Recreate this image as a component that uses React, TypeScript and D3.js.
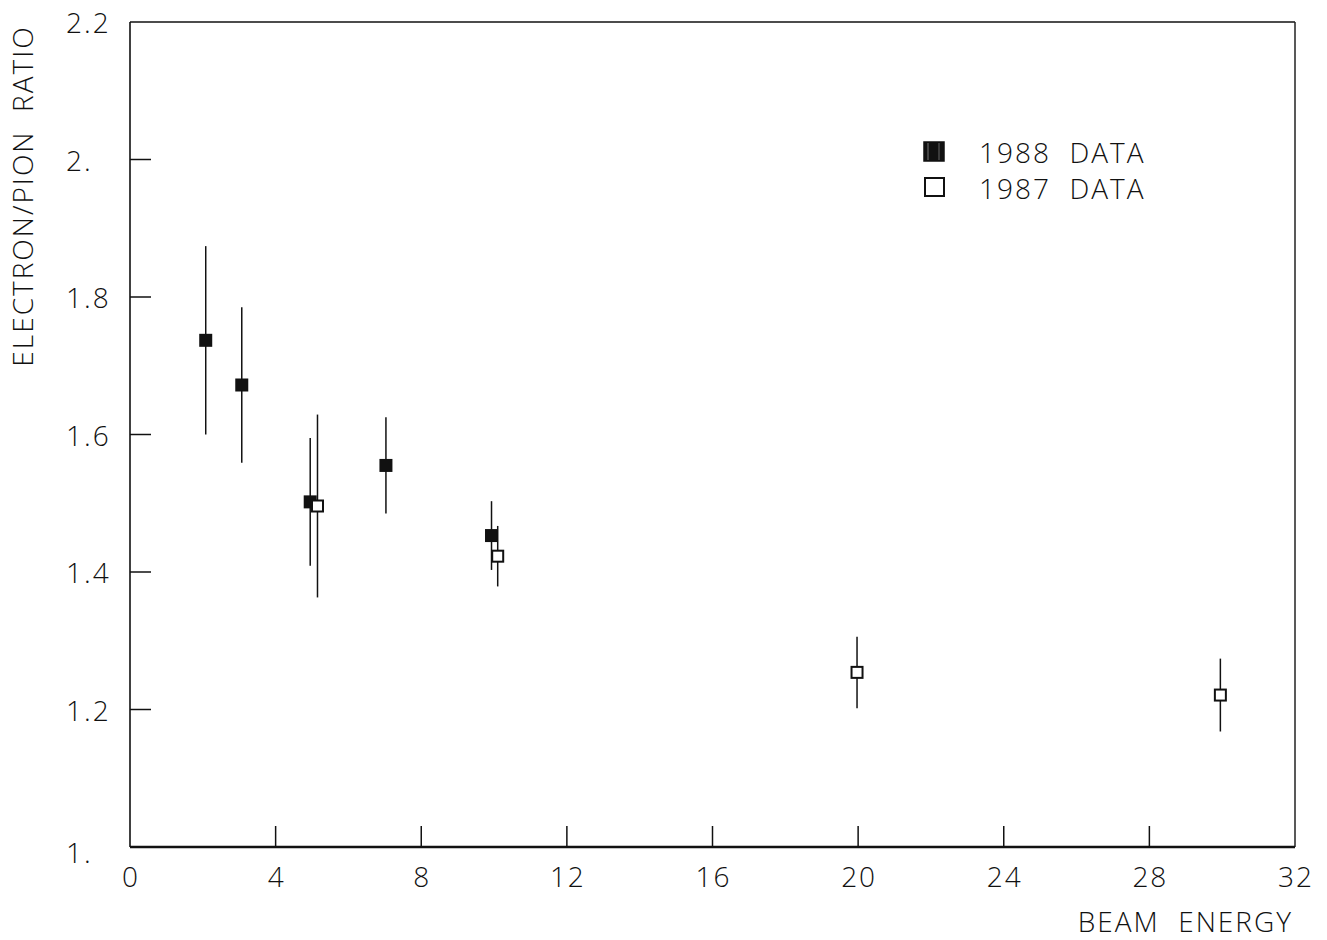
import React from "react";
import * as d3 from "d3";

// Beam energy (GeV) for each measured point
const energy1988 = [2.08, 3.07, 4.95, 7.03, 9.93];
const ratio1988 = [1.737, 1.672, 1.502, 1.555, 1.453];
const err1988 = [0.137, 0.113, 0.093, 0.07, 0.05];

const energy1987 = [5.15, 10.1, 19.97, 29.95];
const ratio1987 = [1.496, 1.423, 1.254, 1.221];
const err1987 = [0.133, 0.044, 0.052, 0.053];

const xTicks = [0, 4, 8, 12, 16, 20, 24, 28, 32];
const yTicks = [1.0, 1.2, 1.4, 1.6, 1.8, 2.0, 2.2];
const yTickLabels = ["1.", "1.2", "1.4", "1.6", "1.8", "2.", "2.2"];

const legendLabels = ["1988  DATA", "1987  DATA"];

const W = 1327;
const H = 940;
const FONT = "'Open Sans', 'DejaVu Sans', sans-serif";

export default function App() {
  const x = d3.scaleLinear().domain([0, 32]).range([130, 1295]);
  const y = d3.scaleLinear().domain([1, 2.2]).range([847, 22]);

  const s88 = 13;
  const s87 = 11;

  const pts88 = energy1988.map((e, i) => ({ e, r: ratio1988[i], d: err1988[i] }));
  const pts87 = energy1987.map((e, i) => ({ e, r: ratio1987[i], d: err1987[i] }));

  const txt = {
    fontFamily: FONT,
    fontWeight: 300,
    fontSize: 28,
    fill: "#111",
    letterSpacing: 2,
    whiteSpace: "pre",
  } as React.CSSProperties;

  return (
    <svg
      width={W}
      height={H}
      style={{ position: "absolute", left: 0, top: 0, background: "#fff" }}
    >
      {/* frame */}
      <line x1={x(0)} x2={x(32)} y1={y(2.2)} y2={y(2.2)} stroke="#111" strokeWidth={1.6} />
      <line x1={x(32)} x2={x(32)} y1={y(2.2)} y2={y(1)} stroke="#222" strokeWidth={1.5} />
      <line x1={x(0)} x2={x(0)} y1={y(2.2)} y2={y(1)} stroke="#111" strokeWidth={1.6} />
      <line x1={x(0)} x2={x(32)} y1={y(1)} y2={y(1)} stroke="#111" strokeWidth={2.4} />

      {/* x ticks */}
      {xTicks.map((t) => (
        <g key={"xt" + t}>
          {t > 0 && t < 32 && (
            <line x1={x(t)} x2={x(t)} y1={y(1)} y2={y(1) - 21} stroke="#111" strokeWidth={1.5} />
          )}
          <text x={x(t) + 1} y={y(1) + 29} textAnchor="middle" dominantBaseline="central" style={txt}>
            {t}
          </text>
        </g>
      ))}

      {/* y ticks */}
      {yTicks.map((t, i) => (
        <g key={"yt" + t}>
          {t > 1 && t < 2.2 && (
            <line x1={x(0)} x2={x(0) + 21} y1={y(t)} y2={y(t)} stroke="#111" strokeWidth={1.5} />
          )}
          <text x={66} y={y(t) + (i === 0 ? 5 : 0)} textAnchor="start" dominantBaseline="central" style={txt}>
            {yTickLabels[i]}
          </text>
        </g>
      ))}

      {/* axis titles */}
      <text x={1293} y={921} textAnchor="end" dominantBaseline="central" style={txt}>
        {"BEAM  ENERGY"}
      </text>
      <text
        transform={`translate(22,196) rotate(-90)`}
        textAnchor="middle"
        dominantBaseline="central"
        style={txt}
      >
        {"ELECTRON/PION  RATIO"}
      </text>

      {/* 1988 data: filled squares */}
      {pts88.map((p, i) => (
        <g key={"p88" + i}>
          <line x1={x(p.e)} x2={x(p.e)} y1={y(p.r + p.d)} y2={y(p.r - p.d)} stroke="#111" strokeWidth={1.5} />
          <rect x={x(p.e) - s88 / 2} y={y(p.r) - s88 / 2} width={s88} height={s88} fill="#111" />
        </g>
      ))}

      {/* 1987 data: open squares */}
      {pts87.map((p, i) => (
        <g key={"p87" + i}>
          <line x1={x(p.e)} x2={x(p.e)} y1={y(p.r + p.d)} y2={y(p.r - p.d)} stroke="#111" strokeWidth={1.5} />
          <rect
            x={x(p.e) - s87 / 2}
            y={y(p.r) - s87 / 2}
            width={s87}
            height={s87}
            fill="#fff"
            stroke="#111"
            strokeWidth={2}
          />
        </g>
      ))}

      {/* legend */}
      <g>
        <rect x={924} y={142} width={20} height={19} fill="#111" stroke="#111" strokeWidth={1.5} />
        <line x1={928} x2={928} y1={143} y2={160} stroke="#777" strokeWidth={1} />
        <line x1={939} x2={939} y1={143} y2={160} stroke="#666" strokeWidth={1} />
        <text x={979} y={152} dominantBaseline="central" style={txt}>
          {legendLabels[0]}
        </text>
        <rect x={925} y={178} width={19} height={18} fill="#fff" stroke="#111" strokeWidth={2} />
        <text x={979} y={188} dominantBaseline="central" style={txt}>
          {legendLabels[1]}
        </text>
      </g>
    </svg>
  );
}
